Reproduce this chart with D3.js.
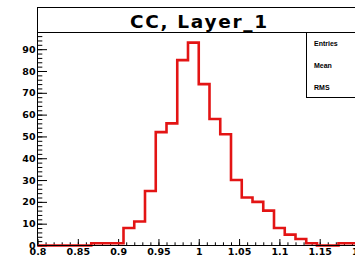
<!DOCTYPE html>
<html>
<head>
<meta charset="utf-8">
<script src="https://cdn.jsdelivr.net/npm/d3@7"></script>
<style>
  body { margin: 0; background: #fff; }
  svg { display: block; }
  .tick text { font-family: "DejaVu Sans", sans-serif; font-weight: bold; }
</style>
</head>
<body>
<div id="chart"></div>
<script>
// histogram: 30 bins from 0.8 to 1.2
const binLow = 0.8;
const binHigh = 1.2;
const counts = [0, 0, 0, 0, 0, 1, 1, 1, 8, 11, 25, 52, 56, 85, 93,
                74, 58, 51, 30, 22, 20, 16, 8, 5, 3, 1, 0, 0, 1, 1];
const xTicks = [0.8, 0.85, 0.9, 0.95, 1, 1.05, 1.1, 1.15, 1.2];
const yTicks = [0, 10, 20, 30, 40, 50, 60, 70, 80, 90];
const statLabels = ["Entries", "Mean", "RMS"];
const title = "CC, Layer_1";

const W = 355, H = 259;
const svg = d3.select("#chart").append("svg")
    .attr("width", W)
    .attr("height", H);

const x = d3.scaleLinear().domain([binLow, binHigh]).range([37.5, 360]);
const yMax = d3.max(counts) * 1.05;
const y = d3.scaleLinear().domain([0, yMax]).range([245.5, 32.5]);

// minor ticks
const xMinor = d3.range(0, 41).map(i => binLow + i * 0.01);
const yMinor = d3.range(0, 49).map(i => i * 2).filter(v => v <= yMax);

svg.append("g")
    .attr("transform", "translate(0,245.5)")
    .call(d3.axisBottom(x).tickValues(xMinor).tickSize(-3.2).tickFormat(""))
    .call(g => g.select(".domain").remove());
svg.append("g")
    .attr("transform", "translate(37.5,0)")
    .call(d3.axisLeft(y).tickValues(yMinor).tickSize(-4.8).tickFormat(""))
    .call(g => g.select(".domain").remove());

// major ticks + labels
svg.append("g")
    .attr("transform", "translate(0,245.5)")
    .call(d3.axisBottom(x).tickValues(xTicks).tickSize(-6.5)
        .tickFormat(d => d3.format("~g")(d)))
    .call(g => g.select(".domain").remove())
    .call(g => g.selectAll("text").attr("font-size", 9.5).attr("dy", "0.71em").attr("y", 3));
svg.append("g")
    .attr("transform", "translate(37.5,0)")
    .call(d3.axisLeft(y).tickValues(yTicks).tickSize(-9.5))
    .call(g => g.select(".domain").remove())
    .call(g => g.selectAll("text").attr("font-size", 9.5).attr("x", -2));

// histogram outline
const binW = (binHigh - binLow) / counts.length;
const pts = [[x(binLow), y(0)]];
counts.forEach((c, i) => {
  pts.push([x(binLow + i * binW), y(c)]);
  pts.push([x(binLow + (i + 1) * binW), y(c)]);
});
svg.append("path")
    .attr("d", d3.line()(pts))
    .attr("fill", "none")
    .attr("stroke", "#e31414")
    .attr("stroke-width", 2.6);

// frame
svg.append("path")
    .attr("d", "M37.5,32.5V245.5H" + (W + 5))
    .attr("fill", "none")
    .attr("stroke", "#000");

// title box
svg.append("rect")
    .attr("x", 37.5).attr("y", 7.5)
    .attr("width", W).attr("height", 25)
    .attr("fill", "#fff").attr("stroke", "#000");
svg.append("text")
    .attr("x", 198.5).attr("y", 28)
    .attr("text-anchor", "middle")
    .attr("font-family", "DejaVu Sans, sans-serif")
    .attr("font-weight", "bold")
    .attr("font-size", 18.5)
    .attr("textLength", 137)
    .attr("lengthAdjust", "spacing")
    .text(title);

// stats box
svg.append("rect")
    .attr("x", 306.5).attr("y", 32.5)
    .attr("width", 60).attr("height", 65)
    .attr("fill", "#fff").attr("stroke", "#000");
svg.selectAll("text.stat")
    .data(statLabels)
    .enter().append("text")
    .attr("class", "stat")
    .attr("x", 314)
    .attr("y", (d, i) => 45.5 + i * 22)
    .attr("font-family", "Liberation Sans, Arial, sans-serif")
    .attr("font-weight", "bold")
    .attr("font-size", 7)
    .text(d => d);
</script>
</body>
</html>
